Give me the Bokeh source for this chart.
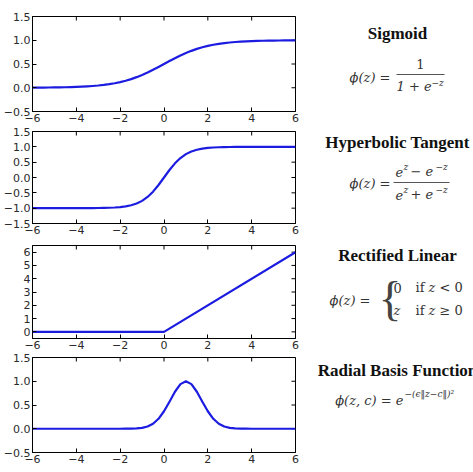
import math
from bokeh.plotting import figure
from bokeh.layouts import row, column
from bokeh.models import Range1d, FixedTicker, Label, BoxAnnotation
from bokeh.embed import file_html
from bokeh.resources import INLINE

# ---------------- data ----------------
z_grid = [-6.0, -5.75, -5.5, -5.25, -5.0, -4.75, -4.5, -4.25, -4.0, -3.75, -3.5, -3.25,
          -3.0, -2.75, -2.5, -2.25, -2.0, -1.75, -1.5, -1.25, -1.0, -0.75, -0.5, -0.25,
          0.0, 0.25, 0.5, 0.75, 1.0, 1.25, 1.5, 1.75, 2.0, 2.25, 2.5, 2.75, 3.0, 3.25,
          3.5, 3.75, 4.0, 4.25, 4.5, 4.75, 5.0, 5.25, 5.5, 5.75, 6.0]

sigmoid_vals = [0.002, 0.003, 0.004, 0.005, 0.007, 0.009, 0.011, 0.014, 0.018, 0.023, 0.029, 0.037,
                0.047, 0.060, 0.076, 0.095, 0.119, 0.148, 0.182, 0.223, 0.269, 0.321, 0.378, 0.438,
                0.500, 0.562, 0.622, 0.679, 0.731, 0.777, 0.818, 0.852, 0.881, 0.905, 0.924, 0.940,
                0.953, 0.963, 0.971, 0.977, 0.982, 0.986, 0.989, 0.991, 0.993, 0.995, 0.996, 0.997, 0.998]

tanh_vals = [-1.000, -1.000, -1.000, -1.000, -1.000, -1.000, -1.000, -1.000, -0.999, -0.999, -0.998, -0.997,
             -0.995, -0.992, -0.987, -0.978, -0.964, -0.941, -0.905, -0.848, -0.762, -0.635, -0.462, -0.245,
             0.000, 0.245, 0.462, 0.635, 0.762, 0.848, 0.905, 0.941, 0.964, 0.978, 0.987, 0.992,
             0.995, 0.997, 0.998, 0.999, 0.999, 1.000, 1.000, 1.000, 1.000, 1.000, 1.000, 1.000, 1.000]

relu_x = [-6.0, 0.0, 6.0]
relu_vals = [0.0, 0.0, 6.0]

rbf_vals = [0.0, 0.0, 0.0, 0.0, 0.0, 0.0, 0.0, 0.0, 0.0, 0.0, 0.0, 0.0,
            0.0, 0.0, 0.0, 0.0, 0.000, 0.001, 0.002, 0.006, 0.018, 0.047, 0.105, 0.210,
            0.368, 0.570, 0.779, 0.939, 1.000, 0.939, 0.779, 0.570, 0.368, 0.210, 0.105, 0.047,
            0.018, 0.006, 0.002, 0.001, 0.000, 0.0, 0.0, 0.0, 0.0, 0.0, 0.0, 0.0, 0.0]

x_ticks = [-6, -4, -2, 0, 2, 4, 6]
x_tick_labels = ["\u22126", "\u22124", "\u22122", "0", "2", "4", "6"]

y_ticks_a = [-0.5, 0.0, 0.5, 1.0, 1.5]
y_labels_a = ["\u22120.5", "0.0", "0.5", "1.0", "1.5"]
y_ticks_b = [-1.5, -1.0, -0.5, 0.0, 0.5, 1.0, 1.5]
y_labels_b = ["\u22121.5", "\u22121.0", "\u22120.5", "0.0", "0.5", "1.0", "1.5"]
y_ticks_c = [0, 1, 2, 3, 4, 5, 6]
y_labels_c = ["0", "1", "2", "3", "4", "5", "6"]

LINE = "#1c1ce0"
TXT = "#2a2a2a"
X0, X1 = -6, 6


def make_panel(h, top, bottom, yr, yt, yl, xs, ys):
    p = figure(width=300, height=h, x_range=Range1d(X0, X1), y_range=Range1d(*yr),
               output_backend="svg", toolbar_location=None,
               min_border_left=30, min_border_right=5,
               min_border_top=top, min_border_bottom=bottom)
    p.grid.visible = False
    p.outline_line_color = "black"
    p.outline_line_width = 1
    p.background_fill_color = "white"
    p.border_fill_color = "white"
    for ax, ticks, labels in ((p.xaxis[0], x_ticks, x_tick_labels), (p.yaxis[0], yt, yl)):
        ax.ticker = FixedTicker(ticks=ticks)
        ax.major_label_overrides = {t: s for t, s in zip(ticks, labels)}
        ax.major_tick_in = 4
        ax.major_tick_out = 0
        ax.minor_tick_in = 0
        ax.minor_tick_out = 0
        ax.major_tick_line_color = "black"
        ax.axis_line_color = "black"
        ax.major_label_text_font = "DejaVu Sans"
        ax.major_label_text_font_size = "11px"
        ax.major_label_text_color = TXT
        ax.major_label_standoff = 2
    # mirrored inward ticks on the top and right frame edges (clipped to the frame)
    p.scatter(x_ticks, [yr[1]] * len(x_ticks), marker="dash", size=8, angle=math.pi / 2,
              line_color="black", line_width=1)
    p.scatter([X1] * len(yt), yt, marker="dash", size=8,
              line_color="black", line_width=1)
    p.line(xs, ys, line_color=LINE, line_width=2.2, line_join="round")
    return p


f1 = make_panel(124, 16, 12, (-0.5, 1.5), y_ticks_a, y_labels_a, z_grid, sigmoid_vals)
f2 = make_panel(112, 7, 12, (-1.5, 1.5), y_ticks_b, y_labels_b, z_grid, tanh_vals)
f3 = make_panel(115, 9, 12, (-0.5, 6.5), y_ticks_c, y_labels_c, relu_x, relu_vals)
f4 = make_panel(121, 6, 20, (-0.5, 1.5), y_ticks_a, y_labels_a, z_grid, rbf_vals)

# ---------------- right text panel ----------------
t = figure(width=173, height=472, x_range=Range1d(0, 173), y_range=Range1d(472, 0),
           output_backend="svg", toolbar_location=None, x_axis_type=None, y_axis_type=None,
           min_border=0)
t.grid.visible = False
t.outline_line_color = None

TITLE_FONT = "Liberation Serif"
MATH_FONT = "DejaVu Serif"
MATH = "#333333"


def lab(x, y, text, size="13px", align="left", style="normal", font=MATH_FONT, color=MATH):
    t.add_layout(Label(x=x, y=y, text=text, text_font=font, text_font_size=size,
                       text_align=align, text_baseline="middle", text_font_style=style,
                       text_color=color))


def title(y, text):
    lab(97, y, text, size="17px", align="center", style="bold", font=TITLE_FONT, color="#111111")


def bar(x0, x1, y):
    t.add_layout(BoxAnnotation(left=x0, right=x1, top=y - 0.5, bottom=y + 0.5,
                               fill_color="#555555", fill_alpha=1, line_color=None))


# Sigmoid
title(33, "Sigmoid")
lab(90, 77, "\u03d5(z) =", align="right", style="italic")
lab(120, 63, "1", align="center")
bar(96, 144, 74)
lab(96, 86, "1 + e", style="italic")
lab(131, 82, "\u2212z", size="9px", style="italic")

# Hyperbolic tangent
title(142, "Hyperbolic Tangent")
lab(90, 183, "\u03d5(z) =", align="right", style="italic")
lab(95, 171, "e", style="italic")
lab(103, 166, "z", size="9px", style="italic")
lab(110, 171, "\u2212 e", style="italic")
lab(135, 166, "\u2212z", size="9px", style="italic")
bar(93, 149, 182)
lab(95, 194, "e", style="italic")
lab(103, 189, "z", size="9px", style="italic")
lab(110, 194, "+ e", style="italic")
lab(135, 189, "\u2212z", size="9px", style="italic")

# Rectified linear
title(255, "Rectified Linear")
lab(70, 300, "\u03d5(z) =", align="right", style="italic")
lab(78, 298, "{", size="48px", font="Liberation Serif", color="#444444")
lab(93, 287, "0")
lab(115, 287, "if")
lab(128, 287, "z", style="italic")
lab(139, 287, "< 0")
lab(93, 310, "z", style="italic")
lab(115, 310, "if")
lab(128, 310, "z", style="italic")
lab(139, 310, "\u2265 0")

# Radial basis function
title(370, "Radial Basis Function")
lab(103, 400, "\u03d5(z, c) = e", align="right", style="italic")
lab(104, 393, "\u2212(\u03f5\u2016z\u2212c\u2016)\u00b2", size="9px", style="italic")

layout = row(column(f1, f2, f3, f4, spacing=0), t, spacing=0)

open("out.html", "w").write(file_html(layout, INLINE))
